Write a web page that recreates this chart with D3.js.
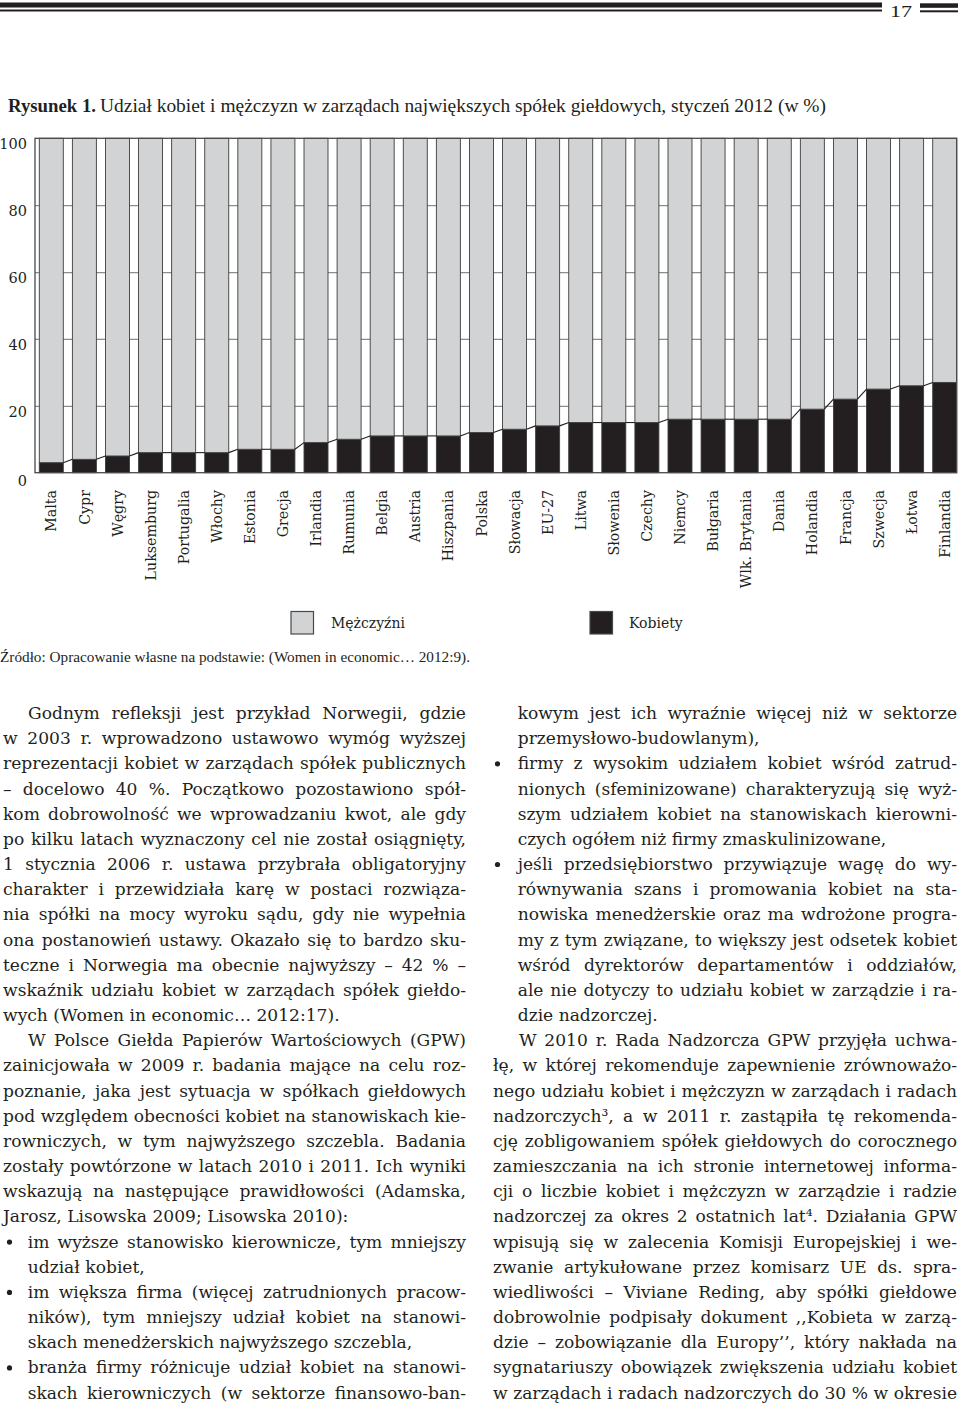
<!DOCTYPE html>
<html><head><meta charset="utf-8">
<script src="https://cdn.jsdelivr.net/npm/d3@7"></script>
<style>body{margin:0;background:#fff}svg{display:block}</style>
</head><body>
<svg id="page" width="960" height="1405"></svg>
<script>
// ---------- DATA ----------
const categories = ["Malta","Cypr","Węgry","Luksemburg","Portugalia","Włochy","Estonia","Grecja","Irlandia","Rumunia","Belgia","Austria","Hiszpania","Polska","Słowacja","EU-27","Litwa","Słowenia","Czechy","Niemcy","Bułgaria","Wlk. Brytania","Dania","Holandia","Francja","Szwecja","Łotwa","Finlandia"];
const womenValues = [3,4,5,6,6,6,7,7,9,10,11,11,11,12,13,14,15,15,15,16,16,16,16,19,22,25,26,27];
const menValues   = [97,96,95,94,94,94,93,93,91,90,89,89,89,88,87,86,85,85,85,84,84,84,84,81,78,75,74,73];
const seriesNames = ["Kobiety","Mężczyźni"];
const legendOrder = ["Mężczyźni","Kobiety"];
const yTicks = [0,20,40,60,80,100];
const gridTicks = [20,40,60,80];

const pageNumber = "17";
const captionBold = "Rysunek 1.";
const captionText = "Udział kobiet i mężczyzn w zarządach największych spółek giełdowych, styczeń 2012 (w %)";
const sourceText = "Źródło: Opracowanie własne na podstawie: (Women in economic… 2012:9).";

// body text lines: [text, kind, justify]  kind: p=plain, i=paragraph indent, b=bullet, c=bullet continuation
const leftLines = [
 ["Godnym refleksji jest przykład Norwegii, gdzie","i",1],
 ["w 2003 r. wprowadzono ustawowo wymóg wyższej","p",1],
 ["reprezentacji kobiet w zarządach spółek publicznych","p",1],
 ["– docelowo 40 %. Początkowo pozostawiono spół-","p",1],
 ["kom dobrowolność we wprowadzaniu kwot, ale gdy","p",1],
 ["po kilku latach wyznaczony cel nie został osiągnięty,","p",1],
 ["1 stycznia 2006 r. ustawa przybrała obligatoryjny","p",1],
 ["charakter i przewidziała karę w postaci rozwiąza-","p",1],
 ["nia spółki na mocy wyroku sądu, gdy nie wypełnia","p",1],
 ["ona postanowień ustawy. Okazało się to bardzo sku-","p",1],
 ["teczne i Norwegia ma obecnie najwyższy – 42 % –","p",1],
 ["wskaźnik udziału kobiet w zarządach spółek giełdo-","p",1],
 ["wych (Women in economic… 2012:17).","p",0],
 ["W Polsce Giełda Papierów Wartościowych (GPW)","i",1],
 ["zainicjowała w 2009 r. badania mające na celu roz-","p",1],
 ["poznanie, jaka jest sytuacja w spółkach giełdowych","p",1],
 ["pod względem obecności kobiet na stanowiskach kie-","p",1],
 ["rowniczych, w tym najwyższego szczebla. Badania","p",1],
 ["zostały powtórzone w latach 2010 i 2011. Ich wyniki","p",1],
 ["wskazują na następujące prawidłowości (Adamska,","p",1],
 ["Jarosz, Lisowska 2009; Lisowska 2010):","p",0],
 ["im wyższe stanowisko kierownicze, tym mniejszy","b",1],
 ["udział kobiet,","c",0],
 ["im większa firma (więcej zatrudnionych pracow-","b",1],
 ["ników), tym mniejszy udział kobiet na stanowi-","c",1],
 ["skach menedżerskich najwyższego szczebla,","c",0],
 ["branża firmy różnicuje udział kobiet na stanowi-","b",1],
 ["skach kierowniczych (w sektorze finansowo-ban-","c",1]
];
const rightLines = [
 ["kowym jest ich wyraźnie więcej niż w sektorze","c",1],
 ["przemysłowo-budowlanym),","c",0],
 ["firmy z wysokim udziałem kobiet wśród zatrud-","b",1],
 ["nionych (sfeminizowane) charakteryzują się wyż-","c",1],
 ["szym udziałem kobiet na stanowiskach kierowni-","c",1],
 ["czych ogółem niż firmy zmaskulinizowane,","c",0],
 ["jeśli przedsiębiorstwo przywiązuje wagę do wy-","b",1],
 ["równywania szans i promowania kobiet na sta-","c",1],
 ["nowiska menedżerskie oraz ma wdrożone progra-","c",1],
 ["my z tym związane, to większy jest odsetek kobiet","c",1],
 ["wśród dyrektorów departamentów i oddziałów,","c",1],
 ["ale nie dotyczy to udziału kobiet w zarządzie i ra-","c",1],
 ["dzie nadzorczej.","c",0],
 ["W 2010 r. Rada Nadzorcza GPW przyjęła uchwa-","i",1],
 ["łę, w której rekomenduje zapewnienie zrównoważo-","p",1],
 ["nego udziału kobiet i mężczyzn w zarządach i radach","p",1],
 ["nadzorczych³, a w 2011 r. zastąpiła tę rekomenda-","p",1],
 ["cję zobligowaniem spółek giełdowych do corocznego","p",1],
 ["zamieszczania na ich stronie internetowej informa-","p",1],
 ["cji o liczbie kobiet i mężczyzn w zarządzie i radzie","p",1],
 ["nadzorczej za okres 2 ostatnich lat⁴. Działania GPW","p",1],
 ["wpisują się w zalecenia Komisji Europejskiej i we-","p",1],
 ["zwanie artykułowane przez komisarz UE ds. spra-","p",1],
 ["wiedliwości – Viviane Reding, aby spółki giełdowe","p",1],
 ["dobrowolnie podpisały dokument ,,Kobieta w zarzą-","p",1],
 ["dzie – zobowiązanie dla Europy’’, który nakłada na","p",1],
 ["sygnatariuszy obowiązek zwiększenia udziału kobiet","p",1],
 ["w zarządach i radach nadzorczych do 30 % w okresie","p",1]
];

// ---------- DRAW ----------
const svg = d3.select("#page");
const ink = "#231f20";

// header rules + page number
const hdr = svg.append("g");
hdr.append("rect").attr("x",0).attr("y",2.5).attr("width",882).attr("height",5).attr("fill",ink);
hdr.append("rect").attr("x",0).attr("y",9.5).attr("width",882).attr("height",2).attr("fill",ink);
hdr.append("rect").attr("x",920).attr("y",3.3).attr("width",38).attr("height",4.5).attr("fill",ink);
hdr.append("rect").attr("x",920).attr("y",10.3).attr("width",38).attr("height",2).attr("fill",ink);
hdr.append("text").attr("x",890).attr("y",17).attr("font-family","Liberation Serif").attr("font-size",17.5)
  .attr("textLength",22).attr("lengthAdjust","spacingAndGlyphs").attr("fill",ink).text(pageNumber);

// caption
svg.append("text").attr("x",8).attr("y",112).attr("font-family","Liberation Serif").attr("font-weight","bold")
  .attr("font-size",18).attr("textLength",88).attr("lengthAdjust","spacingAndGlyphs").attr("fill",ink).text(captionBold);
svg.append("text").attr("x",100).attr("y",112).attr("font-family","Liberation Serif")
  .attr("font-size",18).attr("textLength",726).attr("lengthAdjust","spacingAndGlyphs").attr("fill",ink).text(captionText);

// chart
const plot = {left:35, right:956.7, top:138.3, bottom:472.7};
const x = d3.scaleBand().domain(categories).range([34.75, 961.25]).paddingInner(0.275).paddingOuter(0.1375);
const y = d3.scaleLinear().domain([0,100]).range([plot.bottom, plot.top]);

const table = categories.map((c,i)=>({cat:c, "Kobiety":womenValues[i], "Mężczyźni":menValues[i]}));
const stacked = d3.stack().keys(seriesNames)(table);
const fills = {"Kobiety":ink, "Mężczyźni":"#d1d3d4"};

// gridlines
svg.append("g").attr("transform",`translate(${plot.left},0)`)
  .call(d3.axisLeft(y).tickValues(gridTicks).tickSize(-(plot.right-plot.left)).tickFormat(""))
  .call(g=>g.select(".domain").remove())
  .call(g=>g.selectAll("line").attr("stroke","#8c8c8c").attr("stroke-width",1.3));

// bars
svg.append("g").selectAll("g").data(stacked).join("g")
  .attr("fill", d=>fills[d.key])
  .selectAll("rect").data(d=>d).join("rect")
  .attr("x", d=>x(d.data.cat)).attr("width", x.bandwidth())
  .attr("y", d=>y(d[1])).attr("height", d=>y(d[0])-y(d[1]))
  .attr("stroke","#3d3d3d").attr("stroke-width",0.9);

// step connectors between tops of black bars
const conn = d3.pairs(table).map(([a,b])=>[[x(a.cat)+x.bandwidth(), y(a["Kobiety"])],[x(b.cat), y(b["Kobiety"])]]);
svg.append("g").selectAll("line").data(conn).join("line")
  .attr("x1",d=>d[0][0]).attr("y1",d=>d[0][1]).attr("x2",d=>d[1][0]).attr("y2",d=>d[1][1])
  .attr("stroke",ink).attr("stroke-width",1.1);

// frame
svg.append("rect").attr("x",plot.left).attr("y",plot.top).attr("width",plot.right-plot.left).attr("height",plot.bottom-plot.top)
  .attr("fill","none").attr("stroke","#4a4a4a").attr("stroke-width",1.3);

// y axis labels
svg.append("g").attr("transform",`translate(${plot.left},0)`)
  .call(d3.axisLeft(y).tickValues(yTicks).tickSize(0).tickPadding(8))
  .call(g=>g.select(".domain").remove())
  .call(g=>g.selectAll("text").attr("font-family","DejaVu Serif").attr("font-size",14.5).attr("fill",ink)
     .attr("y", d=> d===0 ? 8 : 6));

// x labels
svg.append("g").selectAll("text").data(categories).join("text")
  .attr("transform", d=>`translate(${x(d)+x.bandwidth()/2},490) rotate(-90)`)
  .attr("text-anchor","end").attr("dy","0.36em")
  .attr("font-family","DejaVu Serif").attr("font-size",14.2).attr("fill",ink).text(d=>d);

// legend
const legendX = {"Mężczyźni":291, "Kobiety":590};
const lg = svg.append("g").selectAll("g").data(legendOrder).join("g")
  .attr("transform", d=>`translate(${legendX[d]},611.5)`);
lg.append("rect").attr("width",22.5).attr("height",22.5).attr("fill",d=>fills[d]).attr("stroke","#4a4a4a").attr("stroke-width",1.2);
lg.append("text").attr("x",d=> d==="Kobiety"?39:40).attr("y",16.5).attr("font-family","DejaVu Serif").attr("font-size",14)
  .attr("fill",ink).text(d=>d);

// source
svg.append("text").attr("x",0).attr("y",662).attr("font-family","Liberation Serif").attr("font-size",15.5)
  .attr("textLength",470).attr("lengthAdjust","spacingAndGlyphs").attr("fill",ink).text(sourceText);

// ---------- body text ----------
const FS = 17.1, LH = 25.17, Y0 = 719;
const body = svg.append("g").attr("font-family","DejaVu Serif").attr("font-size",FS).attr("fill",ink);
function setLine(str, x0, x1, yy, justify){
  const words = str.split(" ");
  const nodes = words.map(w=>body.append("text").attr("y",yy).text(w));
  const widths = nodes.map(n=>n.node().getComputedTextLength());
  const space = FS*0.318;
  if(!justify){ let xx=x0; nodes.forEach((n,i)=>{n.attr("x",xx); xx+=widths[i]+space;}); return; }
  const total = d3.sum(widths);
  let gap = (x1-x0-total)/(words.length-1), s=1;
  const minGap = space*0.6;
  if(gap<minGap){ s=(x1-x0-minGap*(words.length-1))/total; gap=minGap; }
  let xx=x0;
  nodes.forEach((n,i)=>{ n.attr("x",xx);
    if(s<1) n.attr("textLength",widths[i]*s).attr("lengthAdjust","spacingAndGlyphs");
    xx+=widths[i]*s+gap; });
}
function column(lines, c){
  lines.forEach(([t,kind,j],i)=>{
    const yy = Y0 + i*LH;
    let x0 = c.x0;
    if(kind==="i") x0 = c.indent;
    if(kind==="b"||kind==="c") x0 = c.bulletText;
    if(kind==="b") body.append("circle").attr("cx",c.bullet).attr("cy",yy-5.5).attr("r",2.6).attr("fill",ink);
    setLine(t, x0, c.x1, yy, j);
  });
}
column(leftLines, {x0:3, x1:466, indent:28, bulletText:27.7, bullet:9.5});
column(rightLines,{x0:493, x1:957, indent:519, bulletText:517.7, bullet:497.5});
</script>
</body></html>
